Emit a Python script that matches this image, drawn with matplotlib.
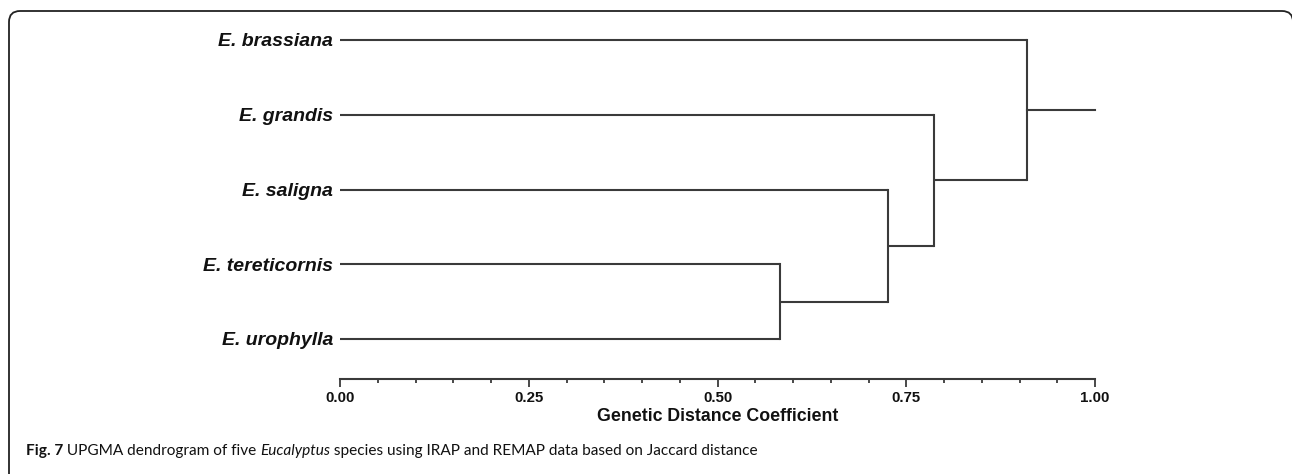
import matplotlib
matplotlib.use("Agg")
import matplotlib.pyplot as plt
from matplotlib.patches import FancyBboxPatch
from matplotlib.ticker import MultipleLocator

# data: leaves top to bottom, merges as (child_a, child_b, distance)
species = ["E. brassiana", "E. grandis", "E. saligna", "E. tereticornis", "E. urophylla"]
merges = [(3, 4, 0.583), (2, 5, 0.726), (1, 6, 0.787), (0, 7, 0.910)]
root_end = 1.00
tick_labels = ["0.00", "0.25", "0.50", "0.75", "1.00"]

W, H = 1292, 474
fig = plt.figure(figsize=(W / 100, H / 100), dpi=100)
line_col = "#3a3a3a"
txt_col = "#111111"

# axes placed so 0.00 -> x=340 px, 1.00 -> x=1095 px; leaves spaced 74.75 px
row = 74.75
y_bot, y_top = -0.535, 4.3
ax_bottom_px = H - 379
ax = fig.add_axes([340 / W, ax_bottom_px / H, 755 / W, (y_top - y_bot) * row / H])
ax.set_xlim(0, 1.0)
ax.set_ylim(y_bot, y_top)

n = len(species)
ypos = {i: (n - 1 - i) for i in range(n)}
xpos = {i: 0.0 for i in range(n)}
node = n
for a, b, d in merges:
    for c in (a, b):
        ax.plot([xpos[c], d], [ypos[c], ypos[c]], color=line_col, lw=1.5,
                solid_capstyle="butt", clip_on=False)
    ax.plot([d, d], [ypos[a], ypos[b]], color=line_col, lw=1.5,
            solid_capstyle="projecting", clip_on=False)
    ypos[node] = (ypos[a] + ypos[b]) / 2
    xpos[node] = d
    node += 1
ax.plot([xpos[node - 1], root_end], [ypos[node - 1]] * 2, color=line_col, lw=1.5,
        clip_on=False)

for i, name in enumerate(species):
    ax.annotate(name, xy=(0, ypos[i]), xytext=(-5, -4.6), textcoords="offset points",
                ha="right", va="baseline", fontsize=14, fontweight="bold",
                style="italic", family="Liberation Sans", color=txt_col)

for s in ["top", "right", "left"]:
    ax.spines[s].set_visible(False)
ax.spines["bottom"].set_color(line_col)
ax.spines["bottom"].set_linewidth(1.5)
ax.set_yticks([])
ax.set_xticks([0, 0.25, 0.5, 0.75, 1.0])
ax.set_xticklabels(tick_labels)
ax.xaxis.set_minor_locator(MultipleLocator(0.05))
ax.tick_params(axis="x", which="major", length=6, width=1.3, color=line_col, pad=3,
               labelsize=10.8)
ax.tick_params(axis="x", which="minor", length=3.2, width=1.3, color=line_col)
for lab in ax.get_xticklabels():
    lab.set_fontweight("bold")
    lab.set_family("Liberation Sans")
    lab.set_color(txt_col)
ax.set_xlabel("Genetic Distance Coefficient", fontsize=12.8, fontweight="bold",
              family="Liberation Sans", color=txt_col, labelpad=2)
ax.patch.set_visible(False)

# rounded frame, right and bottom edges run off the picture
frame = FancyBboxPatch((9, -30), 1293 - 9, H - 11 + 30,
                       boxstyle="round,pad=0,rounding_size=11",
                       transform=None, fill=False, ec="#222222", lw=1.3)
fig.patches.append(frame)

# caption built from pieces, sized to span x=26..757 px
pieces = [("Fig. 7", "bold", "normal"), (" UPGMA dendrogram of five ", "normal", "normal"),
          ("Eucalyptus", "normal", "italic"),
          (" species using IRAP and REMAP data based on Jaccard distance", "normal", "normal")]
cap_font = "Lato"
fig.canvas.draw()
renderer = fig.canvas.get_renderer()


def caption_width(size):
    tot = 0
    for txt, wgt, sty in pieces:
        t = fig.text(0, 0, txt, fontsize=size, fontweight=wgt, style=sty, family=cap_font)
        tot += t.get_window_extent(renderer).width
        t.remove()
    return tot


cap_size = 12 * (757 - 26) / caption_width(12)
x = 26
cap_y = H - 455
for txt, wgt, sty in pieces:
    t = fig.text(x / W, cap_y / H, txt, fontsize=cap_size, fontweight=wgt, style=sty,
                 family=cap_font, color=txt_col)
    x += t.get_window_extent(renderer).width

fig.savefig("out.png", dpi=100)
